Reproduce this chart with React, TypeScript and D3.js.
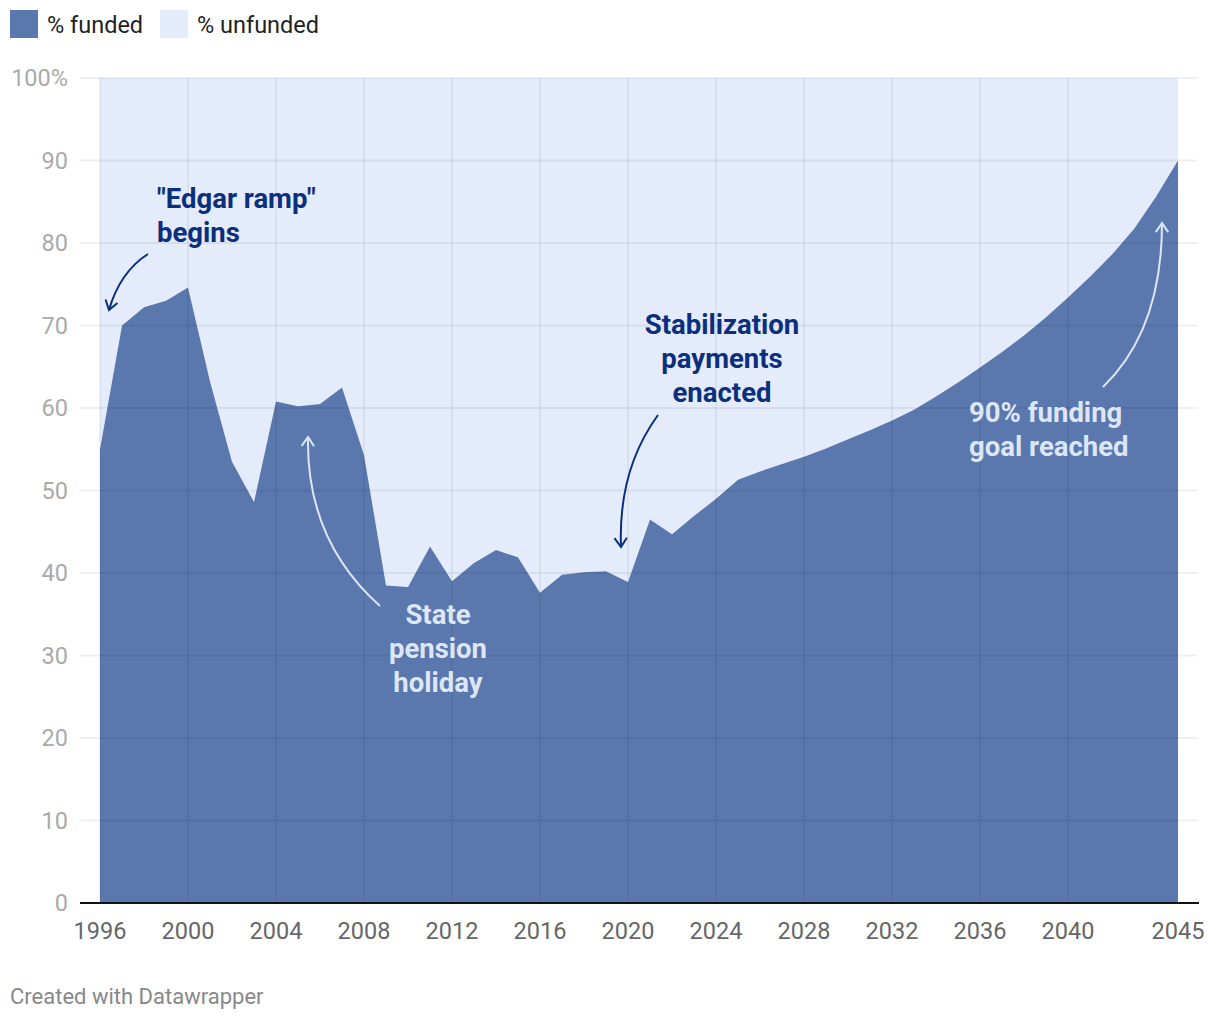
import React from "react";
import * as d3 from "d3";

const years = [1996,1997,1998,1999,2000,2001,2002,2003,2004,2005,2006,2007,2008,2009,2010,2011,2012,2013,2014,2015,2016,2017,2018,2019,2020,2021,2022,2023,2024,2025,2026,2027,2028,2029,2030,2031,2032,2033,2034,2035,2036,2037,2038,2039,2040,2041,2042,2043,2044,2045];
const funded = [55.0,70.0,72.2,73.0,74.6,63.2,53.5,48.6,60.8,60.2,60.5,62.5,54.3,38.5,38.3,43.2,39.0,41.2,42.8,41.9,37.6,39.8,40.1,40.2,38.9,46.5,44.7,46.9,49.0,51.3,52.3,53.2,54.1,55.1,56.2,57.3,58.5,59.8,61.4,63.1,64.9,66.8,68.8,71.0,73.4,75.9,78.6,81.7,85.6,90.0];
const xTicks = [1996,2000,2004,2008,2012,2016,2020,2024,2028,2032,2036,2040,2045];
const gridYears = [1996,2000,2004,2008,2012,2016,2020,2024,2028,2032,2036,2040];
const yTicks = [0,10,20,30,40,50,60,70,80,90,100];
const legendItems = ["% funded", "% unfunded"];

const FUNDED = "#5a78ad";
const UNFUNDED = "#e4ebfa";
const DARK = "#0b2f7c";
const LIGHT = "#dde6f7";
const FONT = "Roboto, sans-serif";

type Ann = { lines: string[]; x: number; y: number; anchor: "start" | "middle"; color: string; from: [number, number]; ctrl: [number, number]; to: [number, number] };

const annotations: Ann[] = [
  { lines: ['"Edgar ramp"', "begins"], x: 157, y: 208, anchor: "start", color: DARK, from: [148, 254], ctrl: [120, 272], to: [109, 310] },
  { lines: ["State", "pension", "holiday"], x: 438, y: 624, anchor: "middle", color: LIGHT, from: [380, 606], ctrl: [306, 540], to: [308, 437] },
  { lines: ["Stabilization", "payments", "enacted"], x: 722, y: 334, anchor: "middle", color: DARK, from: [658, 415], ctrl: [618, 470], to: [621, 547] },
  { lines: ["90% funding", "goal reached"], x: 969, y: 422, anchor: "start", color: LIGHT, from: [1103, 387], ctrl: [1162, 330], to: [1162, 223] },
];

export default function App() {
  const W = 1220, H = 1020;
  const x = d3.scaleLinear().domain([1996, 2045]).range([100, 1178]);
  const y = d3.scaleLinear().domain([0, 100]).range([903, 78]);
  const data = years.map((yr, i) => ({ yr, v: funded[i] }));
  const areaF = d3.area<{ yr: number; v: number }>().x(d => x(d.yr)).y0(y(0)).y1(d => y(d.v))(data) || "";
  const areaU = d3.area<{ yr: number; v: number }>().x(d => x(d.yr)).y0(d => y(d.v)).y1(y(100))(data) || "";

  const arrowHead = (a: Ann) => {
    const [tx, ty] = a.to;
    const ang = Math.atan2(ty - a.ctrl[1], tx - a.ctrl[0]);
    const L = 11, spread = 0.6;
    const p1 = [tx - L * Math.cos(ang - spread), ty - L * Math.sin(ang - spread)];
    const p2 = [tx - L * Math.cos(ang + spread), ty - L * Math.sin(ang + spread)];
    return `M${p1[0]},${p1[1]}L${tx},${ty}L${p2[0]},${p2[1]}`;
  };

  return (
    <svg width={W} height={H} style={{ position: "absolute", left: 0, top: 0, background: "#fff" }} fontFamily={FONT}>
      {legendItems.map((t, i) => (
        <g key={t} transform={`translate(${i === 0 ? 10 : 160},10)`}>
          <rect width={28} height={28} fill={i === 0 ? FUNDED : UNFUNDED} />
          <text x={37} y={23} fontSize={23.5} fill="#222">{t}</text>
        </g>
      ))}
      <path d={areaU} fill={UNFUNDED} />
      <path d={areaF} fill={FUNDED} />
      {yTicks.filter(t => t > 0).map(t => (
        <line key={t} x1={80} x2={1198} y1={y(t)} y2={y(t)} stroke="#000" strokeOpacity={0.06} strokeWidth={2} />
      ))}
      {gridYears.map(t => (
        <line key={t} x1={x(t)} x2={x(t)} y1={y(100)} y2={y(0)} stroke="#000" strokeOpacity={0.05} strokeWidth={2} />
      ))}
      <line x1={80} x2={1199} y1={y(0)} y2={y(0)} stroke="#111" strokeWidth={2} />
      {yTicks.map(t => (
        <text key={t} x={68} y={y(t) + 8} textAnchor="end" fontSize={23.5} fill="#aaa">{t === 100 ? "100%" : t}</text>
      ))}
      {xTicks.map(t => (
        <text key={t} x={x(t)} y={939} textAnchor="middle" fontSize={23.5} fill="#666">{t}</text>
      ))}
      {annotations.map((a, i) => (
        <g key={i}>
          <text x={a.x} y={a.y} textAnchor={a.anchor} fontSize={27.5} fontWeight={700} fill={a.color}>
            {a.lines.map((l, j) => (
              <tspan key={j} x={a.x} dy={j === 0 ? 0 : 34}>{l}</tspan>
            ))}
          </text>
          <path d={`M${a.from[0]},${a.from[1]}Q${a.ctrl[0]},${a.ctrl[1]} ${a.to[0]},${a.to[1]}`} fill="none" stroke={a.color} strokeWidth={2} />
          <path d={arrowHead(a)} fill="none" stroke={a.color} strokeWidth={2} />
        </g>
      ))}
      <text x={10} y={1004} fontSize={22} fill="#888">Created with Datawrapper</text>
    </svg>
  );
}
